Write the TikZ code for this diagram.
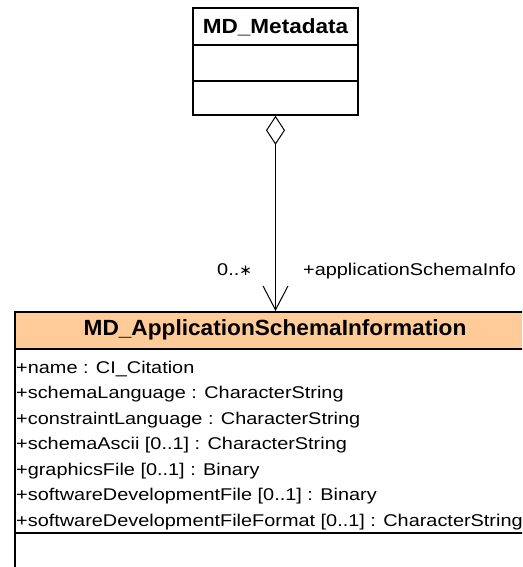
\documentclass[tikz,border=0pt]{standalone}
\usepackage{fontspec}
\setmainfont{Liberation Sans}[FakeStretch=1.17]
\newfontfamily\tfa{Liberation Sans}[FakeStretch=1.1]
\newfontfamily\tfb{Liberation Sans}[FakeStretch=1.03]
\newfontfamily\dvs{DejaVu Sans}
\usetikzlibrary{arrows.meta}
\definecolor{peach}{HTML}{FFCC99}
\begin{document}
\begin{tikzpicture}[x=1pt,y=-1pt,
  box/.style={draw, line width=1.6pt, inner sep=0pt},
  sep/.style={line width=1.6pt},
  attr/.style={anchor=base west, inner sep=0pt, font=\fontsize{17}{19}\selectfont},
  lbl/.style={inner sep=0pt, font=\fontsize{17}{19}\selectfont},
  assoc/.style={line width=1pt, {Diamond[open,length=29pt,width=19pt]}-{Straight Barb[length=24pt,width=25pt]}},
]
\useasboundingbox (0,0) rectangle (522,567);
\fill[white] (0,0) rectangle (522,567);
\clip (0,0) rectangle (522,567);
% MD_Metadata class
\node[box, minimum width=165pt, minimum height=107pt] (meta) at (275.5,61.5) {};
\draw[sep] (193,45) -- (358,45);
\draw[sep] (193,81) -- (358,81);
\node[font={\fontsize{20.5}{24}\tfa\bfseries}] (metatitle) at (275.5,27.5) {MD\_Metadata};
% MD_ApplicationSchemaInformation class
\fill[peach] (14,311) rectangle (536,349);
\node[box, minimum width=522pt, minimum height=300pt, anchor=north west] (asi) at (14,311) {};
\draw[sep] (14,349) -- (536,349);
\draw[sep] (14,533) -- (536,533);
\node[font={\fontsize{22}{26}\tfb\bfseries}] (asititle) at (275,330) {MD\_ApplicationSchemaInformation};
\node[attr] (a1) at (16,373) {+name : CI\_Citation};
\node[attr] (a2) at (16,398.5) {+schemaLanguage : CharacterString};
\node[attr] (a3) at (16,424) {+constraintLanguage : CharacterString};
\node[attr] (a4) at (16,449.5) {+schemaAscii [0..1] : CharacterString};
\node[attr] (a5) at (16,475) {+graphicsFile [0..1] : Binary};
\node[attr] (a6) at (16,500.5) {+softwareDevelopmentFile [0..1] : Binary};
\node[attr] (a7) at (16,526) {+softwareDevelopmentFileFormat [0..1] : CharacterString};
% association
\draw[assoc] (meta.south) -- (meta.south |- asi.north);
\node[lbl, anchor=base west] (mult) at (217,275) {0..{\dvs\fontsize{15}{17}\selectfont ∗}};
\node[lbl, anchor=base west] (role) at (303,275) {+applicationSchemaInfo};
\end{tikzpicture}
\end{document}
